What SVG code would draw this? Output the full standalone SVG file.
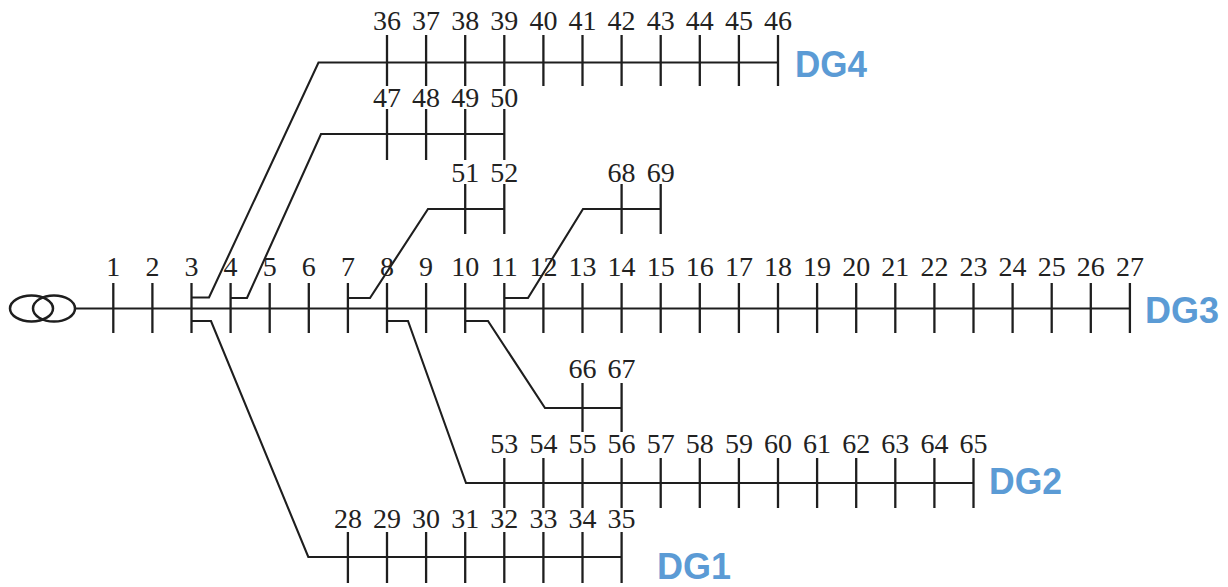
<svg xmlns="http://www.w3.org/2000/svg" width="1228" height="587" viewBox="0 0 1228 587">
<style>
.tick{stroke:#1e1e1e;stroke-width:2.3;fill:none}
.wire{stroke:#1e1e1e;stroke-width:2.1;fill:none;stroke-linejoin:miter}
.lbl{font-family:"Liberation Serif","Times New Roman",serif;font-size:28px;fill:#222;text-anchor:middle}
.dg{font-family:"Liberation Sans",Arial,sans-serif;font-weight:bold;font-size:37px;fill:#5B9BD5}
</style>
<rect width="1228" height="587" fill="#ffffff"/>
<g id="connectors">
<path class="wire" d="M75,308.5 H1129.9"/>
<path class="wire" d="M191.5,297.5 H209 L318.5,62.5 H778"/>
<path class="wire" d="M230.6,298 H247 L321,134 H504.3"/>
<path class="wire" d="M347.9,298 H370 L428,209 H504.3"/>
<path class="wire" d="M504.3,298 H528 L583,209 H660.7"/>
<path class="wire" d="M191.5,321 H211 L308.3,557 H621.6"/>
<path class="wire" d="M387,321 H408 L466,483 H973.5"/>
<path class="wire" d="M465.2,321 H488 L545,408 H621.6"/>
</g>
<g id="transformer">
<ellipse cx="31.5" cy="308.5" rx="21.5" ry="13" fill="none" stroke="#1e1e1e" stroke-width="2.5"/>
<ellipse cx="54" cy="308.5" rx="21" ry="13" fill="none" stroke="#1e1e1e" stroke-width="2.5"/>
</g>
<g id="bus1"><line class="tick" x1="113.3" y1="283" x2="113.3" y2="333"/><text class="lbl" x="113.3" y="276">1</text></g>
<g id="bus2"><line class="tick" x1="152.4" y1="283" x2="152.4" y2="333"/><text class="lbl" x="152.4" y="276">2</text></g>
<g id="bus3"><line class="tick" x1="191.5" y1="283" x2="191.5" y2="333"/><text class="lbl" x="191.5" y="276">3</text></g>
<g id="bus4"><line class="tick" x1="230.6" y1="283" x2="230.6" y2="333"/><text class="lbl" x="230.6" y="276">4</text></g>
<g id="bus5"><line class="tick" x1="269.7" y1="283" x2="269.7" y2="333"/><text class="lbl" x="269.7" y="276">5</text></g>
<g id="bus6"><line class="tick" x1="308.8" y1="283" x2="308.8" y2="333"/><text class="lbl" x="308.8" y="276">6</text></g>
<g id="bus7"><line class="tick" x1="347.9" y1="283" x2="347.9" y2="333"/><text class="lbl" x="347.9" y="276">7</text></g>
<g id="bus8"><line class="tick" x1="387" y1="283" x2="387" y2="333"/><text class="lbl" x="387" y="276">8</text></g>
<g id="bus9"><line class="tick" x1="426.1" y1="283" x2="426.1" y2="333"/><text class="lbl" x="426.1" y="276">9</text></g>
<g id="bus10"><line class="tick" x1="465.2" y1="283" x2="465.2" y2="333"/><text class="lbl" x="465.2" y="276">10</text></g>
<g id="bus11"><line class="tick" x1="504.3" y1="283" x2="504.3" y2="333"/><text class="lbl" x="504.3" y="276">11</text></g>
<g id="bus12"><line class="tick" x1="543.4" y1="283" x2="543.4" y2="333"/><text class="lbl" x="543.4" y="276">12</text></g>
<g id="bus13"><line class="tick" x1="582.5" y1="283" x2="582.5" y2="333"/><text class="lbl" x="582.5" y="276">13</text></g>
<g id="bus14"><line class="tick" x1="621.6" y1="283" x2="621.6" y2="333"/><text class="lbl" x="621.6" y="276">14</text></g>
<g id="bus15"><line class="tick" x1="660.7" y1="283" x2="660.7" y2="333"/><text class="lbl" x="660.7" y="276">15</text></g>
<g id="bus16"><line class="tick" x1="699.8" y1="283" x2="699.8" y2="333"/><text class="lbl" x="699.8" y="276">16</text></g>
<g id="bus17"><line class="tick" x1="738.9" y1="283" x2="738.9" y2="333"/><text class="lbl" x="738.9" y="276">17</text></g>
<g id="bus18"><line class="tick" x1="778" y1="283" x2="778" y2="333"/><text class="lbl" x="778" y="276">18</text></g>
<g id="bus19"><line class="tick" x1="817.1" y1="283" x2="817.1" y2="333"/><text class="lbl" x="817.1" y="276">19</text></g>
<g id="bus20"><line class="tick" x1="856.2" y1="283" x2="856.2" y2="333"/><text class="lbl" x="856.2" y="276">20</text></g>
<g id="bus21"><line class="tick" x1="895.3" y1="283" x2="895.3" y2="333"/><text class="lbl" x="895.3" y="276">21</text></g>
<g id="bus22"><line class="tick" x1="934.4" y1="283" x2="934.4" y2="333"/><text class="lbl" x="934.4" y="276">22</text></g>
<g id="bus23"><line class="tick" x1="973.5" y1="283" x2="973.5" y2="333"/><text class="lbl" x="973.5" y="276">23</text></g>
<g id="bus24"><line class="tick" x1="1012.6" y1="283" x2="1012.6" y2="333"/><text class="lbl" x="1012.6" y="276">24</text></g>
<g id="bus25"><line class="tick" x1="1051.7" y1="283" x2="1051.7" y2="333"/><text class="lbl" x="1051.7" y="276">25</text></g>
<g id="bus26"><line class="tick" x1="1090.8" y1="283" x2="1090.8" y2="333"/><text class="lbl" x="1090.8" y="276">26</text></g>
<g id="bus27"><line class="tick" x1="1129.9" y1="283" x2="1129.9" y2="333"/><text class="lbl" x="1129.9" y="276">27</text></g>
<g id="bus28"><line class="tick" x1="347.9" y1="532" x2="347.9" y2="583"/><text class="lbl" x="347.9" y="528">28</text></g>
<g id="bus29"><line class="tick" x1="387" y1="532" x2="387" y2="583"/><text class="lbl" x="387" y="528">29</text></g>
<g id="bus30"><line class="tick" x1="426.1" y1="532" x2="426.1" y2="583"/><text class="lbl" x="426.1" y="528">30</text></g>
<g id="bus31"><line class="tick" x1="465.2" y1="532" x2="465.2" y2="583"/><text class="lbl" x="465.2" y="528">31</text></g>
<g id="bus32"><line class="tick" x1="504.3" y1="532" x2="504.3" y2="583"/><text class="lbl" x="504.3" y="528">32</text></g>
<g id="bus33"><line class="tick" x1="543.4" y1="532" x2="543.4" y2="583"/><text class="lbl" x="543.4" y="528">33</text></g>
<g id="bus34"><line class="tick" x1="582.5" y1="532" x2="582.5" y2="583"/><text class="lbl" x="582.5" y="528">34</text></g>
<g id="bus35"><line class="tick" x1="621.6" y1="532" x2="621.6" y2="583"/><text class="lbl" x="621.6" y="528">35</text></g>
<g id="bus36"><line class="tick" x1="387" y1="35" x2="387" y2="86"/><text class="lbl" x="387" y="30">36</text></g>
<g id="bus37"><line class="tick" x1="426.1" y1="35" x2="426.1" y2="86"/><text class="lbl" x="426.1" y="30">37</text></g>
<g id="bus38"><line class="tick" x1="465.2" y1="35" x2="465.2" y2="86"/><text class="lbl" x="465.2" y="30">38</text></g>
<g id="bus39"><line class="tick" x1="504.3" y1="35" x2="504.3" y2="86"/><text class="lbl" x="504.3" y="30">39</text></g>
<g id="bus40"><line class="tick" x1="543.4" y1="35" x2="543.4" y2="86"/><text class="lbl" x="543.4" y="30">40</text></g>
<g id="bus41"><line class="tick" x1="582.5" y1="35" x2="582.5" y2="86"/><text class="lbl" x="582.5" y="30">41</text></g>
<g id="bus42"><line class="tick" x1="621.6" y1="35" x2="621.6" y2="86"/><text class="lbl" x="621.6" y="30">42</text></g>
<g id="bus43"><line class="tick" x1="660.7" y1="35" x2="660.7" y2="86"/><text class="lbl" x="660.7" y="30">43</text></g>
<g id="bus44"><line class="tick" x1="699.8" y1="35" x2="699.8" y2="86"/><text class="lbl" x="699.8" y="30">44</text></g>
<g id="bus45"><line class="tick" x1="738.9" y1="35" x2="738.9" y2="86"/><text class="lbl" x="738.9" y="30">45</text></g>
<g id="bus46"><line class="tick" x1="778" y1="35" x2="778" y2="86"/><text class="lbl" x="778" y="30">46</text></g>
<g id="bus47"><line class="tick" x1="387" y1="109" x2="387" y2="160"/><text class="lbl" x="387" y="107">47</text></g>
<g id="bus48"><line class="tick" x1="426.1" y1="109" x2="426.1" y2="160"/><text class="lbl" x="426.1" y="107">48</text></g>
<g id="bus49"><line class="tick" x1="465.2" y1="109" x2="465.2" y2="160"/><text class="lbl" x="465.2" y="107">49</text></g>
<g id="bus50"><line class="tick" x1="504.3" y1="109" x2="504.3" y2="160"/><text class="lbl" x="504.3" y="107">50</text></g>
<g id="bus51"><line class="tick" x1="465.2" y1="184" x2="465.2" y2="234"/><text class="lbl" x="465.2" y="182">51</text></g>
<g id="bus52"><line class="tick" x1="504.3" y1="184" x2="504.3" y2="234"/><text class="lbl" x="504.3" y="182">52</text></g>
<g id="bus53"><line class="tick" x1="504.3" y1="458" x2="504.3" y2="508"/><text class="lbl" x="504.3" y="453">53</text></g>
<g id="bus54"><line class="tick" x1="543.4" y1="458" x2="543.4" y2="508"/><text class="lbl" x="543.4" y="453">54</text></g>
<g id="bus55"><line class="tick" x1="582.5" y1="458" x2="582.5" y2="508"/><text class="lbl" x="582.5" y="453">55</text></g>
<g id="bus56"><line class="tick" x1="621.6" y1="458" x2="621.6" y2="508"/><text class="lbl" x="621.6" y="453">56</text></g>
<g id="bus57"><line class="tick" x1="660.7" y1="458" x2="660.7" y2="508"/><text class="lbl" x="660.7" y="453">57</text></g>
<g id="bus58"><line class="tick" x1="699.8" y1="458" x2="699.8" y2="508"/><text class="lbl" x="699.8" y="453">58</text></g>
<g id="bus59"><line class="tick" x1="738.9" y1="458" x2="738.9" y2="508"/><text class="lbl" x="738.9" y="453">59</text></g>
<g id="bus60"><line class="tick" x1="778" y1="458" x2="778" y2="508"/><text class="lbl" x="778" y="453">60</text></g>
<g id="bus61"><line class="tick" x1="817.1" y1="458" x2="817.1" y2="508"/><text class="lbl" x="817.1" y="453">61</text></g>
<g id="bus62"><line class="tick" x1="856.2" y1="458" x2="856.2" y2="508"/><text class="lbl" x="856.2" y="453">62</text></g>
<g id="bus63"><line class="tick" x1="895.3" y1="458" x2="895.3" y2="508"/><text class="lbl" x="895.3" y="453">63</text></g>
<g id="bus64"><line class="tick" x1="934.4" y1="458" x2="934.4" y2="508"/><text class="lbl" x="934.4" y="453">64</text></g>
<g id="bus65"><line class="tick" x1="973.5" y1="458" x2="973.5" y2="508"/><text class="lbl" x="973.5" y="453">65</text></g>
<g id="bus66"><line class="tick" x1="582.5" y1="383" x2="582.5" y2="432"/><text class="lbl" x="582.5" y="378">66</text></g>
<g id="bus67"><line class="tick" x1="621.6" y1="383" x2="621.6" y2="432"/><text class="lbl" x="621.6" y="378">67</text></g>
<g id="bus68"><line class="tick" x1="621.6" y1="184" x2="621.6" y2="234"/><text class="lbl" x="621.6" y="182">68</text></g>
<g id="bus69"><line class="tick" x1="660.7" y1="184" x2="660.7" y2="234"/><text class="lbl" x="660.7" y="182">69</text></g>
<g id="dg4"><text class="dg" x="795" y="77" textLength="72" lengthAdjust="spacingAndGlyphs">DG4</text></g>
<g id="dg3"><text class="dg" x="1145" y="323" textLength="74" lengthAdjust="spacingAndGlyphs">DG3</text></g>
<g id="dg2"><text class="dg" x="989" y="494" textLength="73" lengthAdjust="spacingAndGlyphs">DG2</text></g>
<g id="dg1"><text class="dg" x="657" y="579" textLength="74" lengthAdjust="spacingAndGlyphs">DG1</text></g>
</svg>
